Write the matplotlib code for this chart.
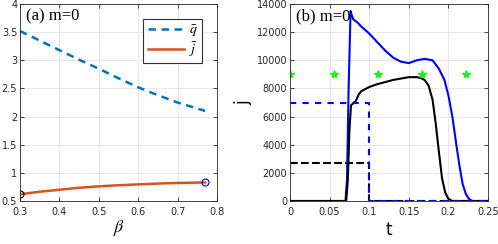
import matplotlib
matplotlib.use('Agg')
import matplotlib.pyplot as plt
import numpy as np

# panel (a)
beta = [0.30, 0.35, 0.40, 0.45, 0.50, 0.55, 0.60, 0.65, 0.70, 0.77]
q_bar = [3.52, 3.35, 3.18, 3.01, 2.85, 2.68, 2.52, 2.38, 2.25, 2.10]
j_bar = [0.62, 0.665, 0.70, 0.735, 0.76, 0.78, 0.795, 0.81, 0.82, 0.83]

# panel (b)
t_blue = [0.0, 0.070, 0.072, 0.074, 0.0765, 0.078, 0.080, 0.085, 0.090, 0.100, 0.110,
          0.120, 0.130, 0.140, 0.150, 0.160, 0.170, 0.180, 0.188, 0.195, 0.200, 0.205,
          0.210, 0.214, 0.218, 0.222, 0.226, 0.230, 0.25]
j_blue = [0, 0, 1500, 8000, 13500, 13200, 12900, 12700, 12400, 11900, 11300,
          10700, 10200, 9900, 9800, 10000, 10100, 10000, 9400, 8600, 7500, 6000,
          4000, 2500, 1200, 500, 150, 0, 0]
t_black = [0.0, 0.071, 0.073, 0.075, 0.077, 0.080, 0.083, 0.087, 0.090, 0.100, 0.110,
           0.120, 0.130, 0.140, 0.150, 0.160, 0.165, 0.170, 0.175, 0.180, 0.184,
           0.188, 0.192, 0.196, 0.200, 0.205, 0.25]
j_black = [0, 0, 1500, 5000, 6800, 6950, 7100, 7600, 7800, 8100, 8300,
           8450, 8600, 8700, 8800, 8800, 8750, 8600, 8200, 7200, 5500,
           3500, 1600, 600, 150, 0, 0]
t_step = [0.0, 0.1, 0.1, 0.25]
q_blue = [6950, 6950, 0, 0]
q_black = [2700, 2700, 0, 0]
t_star = [0.0, 0.0556, 0.1111, 0.1667, 0.2222]
star_level = 9000

plt.rcParams['font.family'] = 'DejaVu Sans'
plt.rcParams['font.size'] = 7
plt.rcParams['mathtext.fontset'] = 'stix'

fig = plt.figure(figsize=(4.98, 2.44), dpi=100)
ax1 = fig.add_axes([20/498, 43/244, 197/498, 197/244])
ax2 = fig.add_axes([290/498, 43/244, 198/498, 197/244])

blue_c = '#0072BD'
red_c = '#D95319'

ax1.plot(beta, q_bar, '--', color=blue_c, lw=1.8, label=r'$\bar{q}$', dashes=(3, 2.2))
ax1.plot(beta, j_bar, '-', color=red_c, lw=1.8, label=r'$\bar{j}$')
ax1.plot([beta[0]], [j_bar[0]], 'o', mfc='none', mec='black', ms=5, mew=0.8)
ax1.plot([beta[-1]], [j_bar[-1]], 'o', mfc='none', mec='blue', ms=5, mew=0.8)
ax1.set_xlim(0.3, 0.8)
ax1.set_ylim(0.5, 4)
ax1.set_xticks([0.3, 0.4, 0.5, 0.6, 0.7, 0.8])
ax1.set_yticks([0.5, 1, 1.5, 2, 2.5, 3, 3.5, 4])
ax1.set_xticklabels(['0.3', '0.4', '0.5', '0.6', '0.7', '0.8'])
ax1.set_yticklabels(['0.5', '1', '1.5', '2', '2.5', '3', '3.5', '4'])
ax1.set_xlabel(r'$\beta$', fontsize=13, labelpad=1)
ax1.text(0.03, 0.98, '(a) m=0', transform=ax1.transAxes, ha='left', va='top',
         fontsize=12, family='Liberation Serif')
leg = ax1.legend(loc='upper right', fontsize=10, fancybox=False, edgecolor='#333333',
                 handlelength=2.6, handletextpad=0.4, borderpad=0.3, labelspacing=0.1,
                 framealpha=1, bbox_to_anchor=(0.96, 0.96))
leg.get_frame().set_linewidth(0.8)

ax2.plot(t_blue, j_blue, '-', color='blue', lw=1.5)
ax2.plot(t_black, j_black, '-', color='black', lw=1.5)
ax2.plot(t_step, q_black, '--', color='black', lw=1.5)
ax2.plot(t_step, q_blue, '--', color='blue', lw=1.5, dashes=(3, 3), dash_capstyle='butt')
ax2.plot(t_star, [star_level] * len(t_star), '*', color='#22EE22', ms=6, ls='none')
ax2.set_xlim(0, 0.25)
ax2.set_ylim(0, 14000)
ax2.set_xticks([0, 0.05, 0.1, 0.15, 0.2, 0.25])
ax2.set_xticklabels(['0', '0.05', '0.1', '0.15', '0.2', '0.25'])
ax2.set_yticks(range(0, 14001, 2000))
ax2.set_xlabel('t', fontsize=12, labelpad=3)
ax2.set_ylabel('j', fontsize=12, labelpad=3)
ax2.text(0.03, 0.98, '(b) m=0', transform=ax2.transAxes, ha='left', va='top',
         fontsize=12, family='Liberation Serif')

for ax in (ax1, ax2):
    ax.grid(True, color='#e3e3e3', lw=0.6)
    ax.set_axisbelow(True)
    ax.tick_params(direction='in', length=3, width=0.6, colors='#262626', pad=2,
                   top=True, right=True)
    ax.tick_params(axis='x', pad=4)
    for s in ax.spines.values():
        s.set_linewidth(0.6)
        s.set_color('#262626')

fig.savefig('out.png', dpi=100)
